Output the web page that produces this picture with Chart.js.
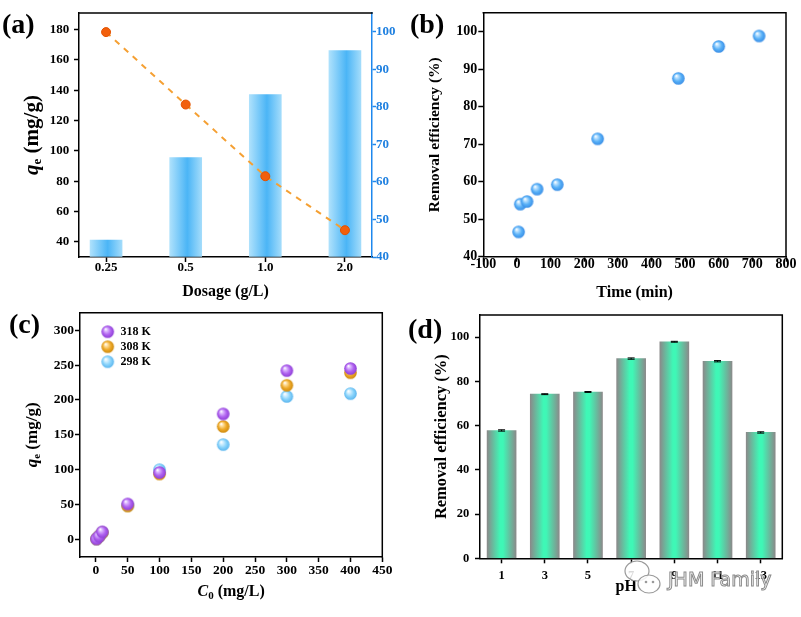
<!DOCTYPE html>
<html><head><meta charset="utf-8">
<script src="https://cdn.jsdelivr.net/npm/chart.js@4"></script>
<style>
html,body{margin:0;padding:0;background:#fff;}
#wrap{position:relative;width:801px;height:617px;overflow:hidden;background:#fff;}
#wrap canvas{position:absolute;left:0;top:0;}
.lab{position:absolute;font:bold 28px "Liberation Serif",serif;color:#000;line-height:1;}
.wm{position:absolute;left:668px;top:570px;font:19px "DejaVu Sans",sans-serif;line-height:1;color:rgba(255,255,255,0.85);-webkit-text-stroke:1px #8c8c8c;}
.wmi{position:absolute;left:622px;top:558px;}
</style></head><body>
<div id="wrap">
<canvas id="ca" width="801" height="617"></canvas>
<canvas id="cb" width="801" height="617"></canvas>
<canvas id="cc" width="801" height="617"></canvas>
<canvas id="cd" width="801" height="617"></canvas>
<div class="lab" style="left:2px;top:10px">(a)</div>
<div class="lab" style="left:410px;top:10px">(b)</div>
<div class="lab" style="left:9px;top:310px">(c)</div>
<div class="lab" style="left:408px;top:315px">(d)</div>
<svg class="wmi" width="42" height="42" viewBox="0 0 42 42">
 <ellipse cx="15" cy="13" rx="12" ry="10" fill="rgba(255,255,255,0.85)" stroke="#9a9a9a" stroke-width="1.2"/>
 <ellipse cx="27" cy="26" rx="11" ry="9" fill="rgba(255,255,255,0.85)" stroke="#9a9a9a" stroke-width="1.2"/>
 <circle cx="24" cy="24" r="1.3" fill="#9a9a9a"/><circle cx="31" cy="24" r="1.3" fill="#9a9a9a"/>
</svg>
<div class="wm">JHM Family</div>
</div>
<script>
// ---------- data ----------
const dosageLabels = ['0.25', '0.5', '1.0', '2.0'];
const dosageQe = [178.4, 130.6, 83.3, 47.7];          // left axis, q_e (mg/g)
const dosageRemoval = [44.5, 66.5, 83.3, 95.0];       // right axis, removal (%)

const timeMin = [5, 10, 30, 60, 120, 240, 480, 600, 720];
const timeRemoval = [46.6, 54.0, 54.7, 58.0, 59.2, 71.4, 87.5, 96.0, 98.8];

const c0Values = [1, 5, 10, 50, 100, 200, 300, 400];
const qe318 = [0.9, 4.8, 11, 51, 96, 180, 242, 245];
const qe308 = [0.9, 4.7, 10, 48, 94, 162, 221, 239];
const qe298 = [0.9, 4.6, 10, 49, 100, 136, 205, 209];
const tempLabels = ['318 K', '308 K', '298 K'];

const phLabels = ['1', '3', '5', '7', '9', '11', '13'];
const phRemoval = [57.8, 74.2, 75.2, 90.3, 97.9, 89.1, 56.9];
const phError = [0.3, 0.2, 0.2, 0.3, 0.2, 0.3, 0.3];

// ---------- helpers ----------
const FAM = '"Liberation Serif","Times New Roman",serif';
Chart.defaults.font.family = FAM;
Chart.defaults.font.weight = 'bold';
Chart.defaults.color = '#000';
const W = 801, H = 617, LW = 50, RW = 30, BH = 40;

function pad(l, r, t, b, right) {
  return {left: l - LW, right: W - r - (right ? RW : 0), top: t, bottom: H - b - BH};
}
function fixW(w) { return s => { s.width = w; }; }
function fixH(h) { return s => { s.height = h; }; }
function setTicks(arr) { return s => { s.ticks = arr.map(v => ({value: v})); }; }
function range(a, b, st) { const o = []; for (let v = a; v <= b + 1e-9; v += st) o.push(v); return o; }

function sphere(r, light, base, dark) {
  const c = document.createElement('canvas');
  const s = Math.ceil(2 * r + 2); c.width = c.height = s;
  const g = c.getContext('2d'); const cx = s / 2, cy = s / 2;
  const gr = g.createRadialGradient(cx - r * 0.35, cy - r * 0.42, r * 0.05, cx, cy, r);
  gr.addColorStop(0, '#ffffff'); gr.addColorStop(0.22, light); gr.addColorStop(0.62, base); gr.addColorStop(1, dark);
  g.fillStyle = gr; g.beginPath(); g.arc(cx, cy, r, 0, Math.PI * 2); g.fill();
  return c;
}
function hGrad(stops, half, xKey) {
  return (ctx) => {
    const ch = ctx.chart, xs = ch.scales.x;
    if (!xs || ctx.type !== 'data') return stops[1][1];
    const xv = xKey ? ctx.raw.x : ctx.dataIndex;
    const px = xs.getPixelForValue(xv);
    if (!isFinite(px)) return stops[1][1];
    const g = ch.ctx.createLinearGradient(px - half, 0, px + half, 0);
    stops.forEach(s => g.addColorStop(s[0], s[1]));
    return g;
  };
}

const TITLES = {
  a: {x: {dy: 34.7, segs: [['Dosage (g/L)', 'bold 16px ' + FAM, 0]]},
      y: {dx: 46, segs: [['q', 'italic bold 21px ' + FAM, 0], ['e', 'bold 13px ' + FAM, 5], [' (mg/g)', 'bold 21px ' + FAM, 0]]}},
  b: {x: {dy: 36.6, segs: [['Time (min)', 'bold 16px ' + FAM, 0]]},
      y: {dx: 48.3, segs: [['Removal efficiency (%)', 'bold 15.5px ' + FAM, 0]]}},
  c: {x: {dy: 34.7, segs: [['C', 'italic bold 16px ' + FAM, 0], ['0', 'bold 11px ' + FAM, 4], [' (mg/L)', 'bold 16px ' + FAM, 0]]},
      y: {dx: 47, segs: [['q', 'italic bold 17px ' + FAM, 0], ['e', 'bold 11px ' + FAM, 4], [' (mg/g)', 'bold 17px ' + FAM, 0]]}},
  d: {x: {dy: 28.4, ox: -5, segs: [['pH', 'bold 16px ' + FAM, 0]]},
      y: {dx: 38.3, segs: [['Removal efficiency (%)', 'bold 16.5px ' + FAM, 0]]}}
};
function drawSegs(ctx, segs) {
  let tot = 0;
  segs.forEach(s => { ctx.font = s[1]; tot += ctx.measureText(s[0]).width; });
  let x = -tot / 2;
  ctx.textBaseline = 'middle'; ctx.textAlign = 'left'; ctx.fillStyle = '#000';
  segs.forEach(s => { ctx.font = s[1]; ctx.fillText(s[0], x, s[2]); x += ctx.measureText(s[0]).width; });
}
const titlePlugin = {
  id: 'rtitles',
  afterDraw(chart, args, opts) {
    const T = TITLES[opts.key]; if (!T) return;
    const {ctx, chartArea: a} = chart;
    ctx.save(); ctx.translate((a.left + a.right) / 2 + (T.x.ox || 0), a.bottom + T.x.dy); drawSegs(ctx, T.x.segs); ctx.restore();
    ctx.save(); ctx.translate(a.left - T.y.dx, (a.top + a.bottom) / 2); ctx.rotate(-Math.PI / 2); drawSegs(ctx, T.y.segs); ctx.restore();
  }
};
const framePlugin = {
  id: 'frame',
  afterDatasetsDraw(chart, args, opts) {
    const {ctx, chartArea: a} = chart;
    ctx.save(); ctx.lineWidth = 1.5; ctx.lineCap = 'square'; ctx.strokeStyle = '#000';
    ctx.beginPath(); ctx.moveTo(a.left, a.top); ctx.lineTo(a.right, a.top);
    if (!opts.noRight) ctx.lineTo(a.right, a.bottom);
    ctx.stroke(); ctx.restore();
  }
};
function axisBase(extra) {
  return Object.assign({
    border: {color: '#000', width: 1.5},
    grid: {drawOnChartArea: false, offset: false, tickLength: 5, tickWidth: 1.5, tickColor: '#000'}
  }, extra);
}
const common = {
  responsive: false, animation: false, devicePixelRatio: 1, events: [],
};

// ---------- (a) ----------
new Chart(document.getElementById('ca'), {
  data: {
    datasets: [
      {type: 'line', label: 'qe', order: 0, yAxisID: 'y',
        data: dosageQe.map((v, i) => ({x: i, y: v})),
        borderColor: '#f5a033', borderWidth: 2, borderDash: [6, 6], fill: false,
        pointRadius: 4.5, pointBackgroundColor: '#f25f0c', pointBorderColor: '#e35200', pointBorderWidth: 1},
      {type: 'bar', label: 'Removal', order: 1, yAxisID: 'y1', base: 40,
        data: dosageRemoval.map((v, i) => ({x: i, y: v})),
        barThickness: 32,
        backgroundColor: hGrad([[0, '#aee1fc'], [0.55, '#4bb5f6'], [1, '#a3dcfb']], 16, true),
        borderWidth: 0}
    ]
  },
  options: Object.assign({}, common, {
    layout: {padding: pad(79, 372, 13, 257, true)},
    plugins: {legend: {display: false}, tooltip: {enabled: false}, rtitles: {key: 'a'}, frame: {noRight: true}},
    scales: {
      x: axisBase({type: 'linear', position: 'bottom', min: -0.34, max: 3.34, offset: false,
        afterBuildTicks: setTicks([0, 1, 2, 3]), afterFit: fixH(BH),
        ticks: {padding: -1.3, font: {size: 13, lineHeight: 1}, maxRotation: 0, callback: v => dosageLabels[v]}}),
      y: axisBase({type: 'linear', position: 'left', min: 30, max: 191,
        afterBuildTicks: setTicks(range(40, 180, 20)), afterFit: fixW(LW),
        ticks: {padding: 4.7, font: {size: 13, lineHeight: 1}}}),
      y1: {type: 'linear', position: 'right', min: 40, max: 105,
        afterBuildTicks: setTicks(range(40, 100, 10)), afterFit: fixW(RW),
        border: {color: '#1e88ee', width: 1.5},
        grid: {drawOnChartArea: false, tickLength: 4, tickWidth: 1.5, tickColor: '#1e88ee'},
        ticks: {padding: 0, color: '#1f80e0', font: {size: 13, lineHeight: 1}}}
    }
  }),
  plugins: [titlePlugin, framePlugin]
});

// ---------- (b) ----------
const blueBall = sphere(6.3, '#b8e0ff', '#57b0f7', '#3a8ee6');
new Chart(document.getElementById('cb'), {
  type: 'scatter',
  data: {datasets: [{label: 'Removal', data: timeMin.map((t, i) => ({x: t, y: timeRemoval[i]})),
    pointStyle: blueBall, pointRadius: 6}]},
  options: Object.assign({}, common, {
    layout: {padding: pad(483.3, 786, 12.7, 256.7, false)},
    plugins: {legend: {display: false}, tooltip: {enabled: false}, rtitles: {key: 'b'}, frame: {}},
    scales: {
      x: axisBase({type: 'linear', min: -100, max: 800,
        afterBuildTicks: setTicks(range(-100, 800, 100)), afterFit: fixH(BH),
        ticks: {padding: -4.5, font: {size: 14, lineHeight: 1}, maxRotation: 0}}),
      y: axisBase({type: 'linear', min: 40, max: 105,
        afterBuildTicks: setTicks(range(40, 100, 10)), afterFit: fixW(LW),
        ticks: {padding: 1, font: {size: 14, lineHeight: 1}}})
    }
  }),
  plugins: [titlePlugin, framePlugin]
});

// ---------- (c) ----------
const balls = [sphere(6.3, '#dcb8ff', '#b062ef', '#8e3fd6'),
               sphere(6.3, '#ffe0a0', '#eeaa2a', '#cf8a0e'),
               sphere(6.3, '#d4f0ff', '#88d3fb', '#5cb6ee')];
const qeSeries = [qe318, qe308, qe298];
const legendPlugin = {
  id: 'sphLegend',
  afterDraw(chart) {
    const {ctx, chartArea: a} = chart;
    chart.data.datasets.forEach((ds, i) => {
      const y = a.top + 19 + i * 15;
      const img = balls[i];
      ctx.drawImage(img, a.left + 27.7 - img.width / 2, y - img.height / 2);
      ctx.save(); ctx.font = 'bold 12px ' + FAM; ctx.fillStyle = '#000';
      ctx.textBaseline = 'middle'; ctx.textAlign = 'left';
      ctx.fillText(ds.label, a.left + 40.5, y + 0.5); ctx.restore();
    });
  }
};
new Chart(document.getElementById('cc'), {
  type: 'scatter',
  data: {datasets: tempLabels.map((lab, k) => ({label: lab,
    data: c0Values.map((c, i) => ({x: c, y: qeSeries[k][i]})),
    pointStyle: balls[k], pointRadius: 6}))},
  options: Object.assign({}, common, {
    layout: {padding: pad(80, 382.3, 312.7, 557, false)},
    plugins: {legend: {display: false}, tooltip: {enabled: false}, rtitles: {key: 'c'}, frame: {}},
    scales: {
      x: axisBase({type: 'linear', min: -25, max: 450,
        afterBuildTicks: setTicks(range(0, 450, 50)), afterFit: fixH(BH),
        ticks: {padding: 1.5, font: {size: 13.5, lineHeight: 1}, maxRotation: 0}}),
      y: axisBase({type: 'linear', min: -25, max: 325,
        afterBuildTicks: setTicks(range(0, 300, 50)), afterFit: fixW(LW),
        ticks: {padding: 1, font: {size: 13.5, lineHeight: 1}}})
    }
  }),
  plugins: [titlePlugin, framePlugin, legendPlugin]
});

// ---------- (d) ----------
const errPlugin = {
  id: 'errbars',
  afterDatasetsDraw(chart) {
    const {ctx} = chart; const ys = chart.scales.y;
    const meta = chart.getDatasetMeta(0);
    ctx.save(); ctx.strokeStyle = '#000'; ctx.lineWidth = 1;
    meta.data.forEach((bar, i) => {
      const v = phRemoval[i], e = phError[i];
      const y1 = ys.getPixelForValue(v + e), y2 = ys.getPixelForValue(v - e);
      ctx.beginPath();
      ctx.moveTo(bar.x, y1); ctx.lineTo(bar.x, y2);
      ctx.moveTo(bar.x - 3.5, y1); ctx.lineTo(bar.x + 3.5, y1);
      ctx.moveTo(bar.x - 3.5, y2); ctx.lineTo(bar.x + 3.5, y2);
      ctx.stroke();
    });
    ctx.restore();
  }
};
new Chart(document.getElementById('cd'), {
  type: 'bar',
  data: {labels: phLabels, datasets: [{label: 'Removal', data: phRemoval, barThickness: 29,
    backgroundColor: hGrad([[0, '#8a8a8a'], [0.45, '#3ff7b6'], [0.55, '#3ff7b6'], [1, '#8a8a8a']], 14.5, false),
    borderWidth: 0}]},
  options: Object.assign({}, common, {
    layout: {padding: pad(480, 782.3, 315, 558.3, false)},
    plugins: {legend: {display: false}, tooltip: {enabled: false}, rtitles: {key: 'd'}, frame: {}},
    scales: {
      x: axisBase({type: 'category', offset: true, afterFit: fixH(BH),
        ticks: {padding: 6.7, font: {size: 12.5, lineHeight: 1}, maxRotation: 0}}),
      y: axisBase({type: 'linear', min: 0, max: 110,
        afterBuildTicks: setTicks(range(0, 100, 20)), afterFit: fixW(LW),
        ticks: {padding: 5.7, font: {size: 12.5, lineHeight: 1}}})
    }
  }),
  plugins: [titlePlugin, framePlugin, errPlugin]
});
</script>
</body></html>
